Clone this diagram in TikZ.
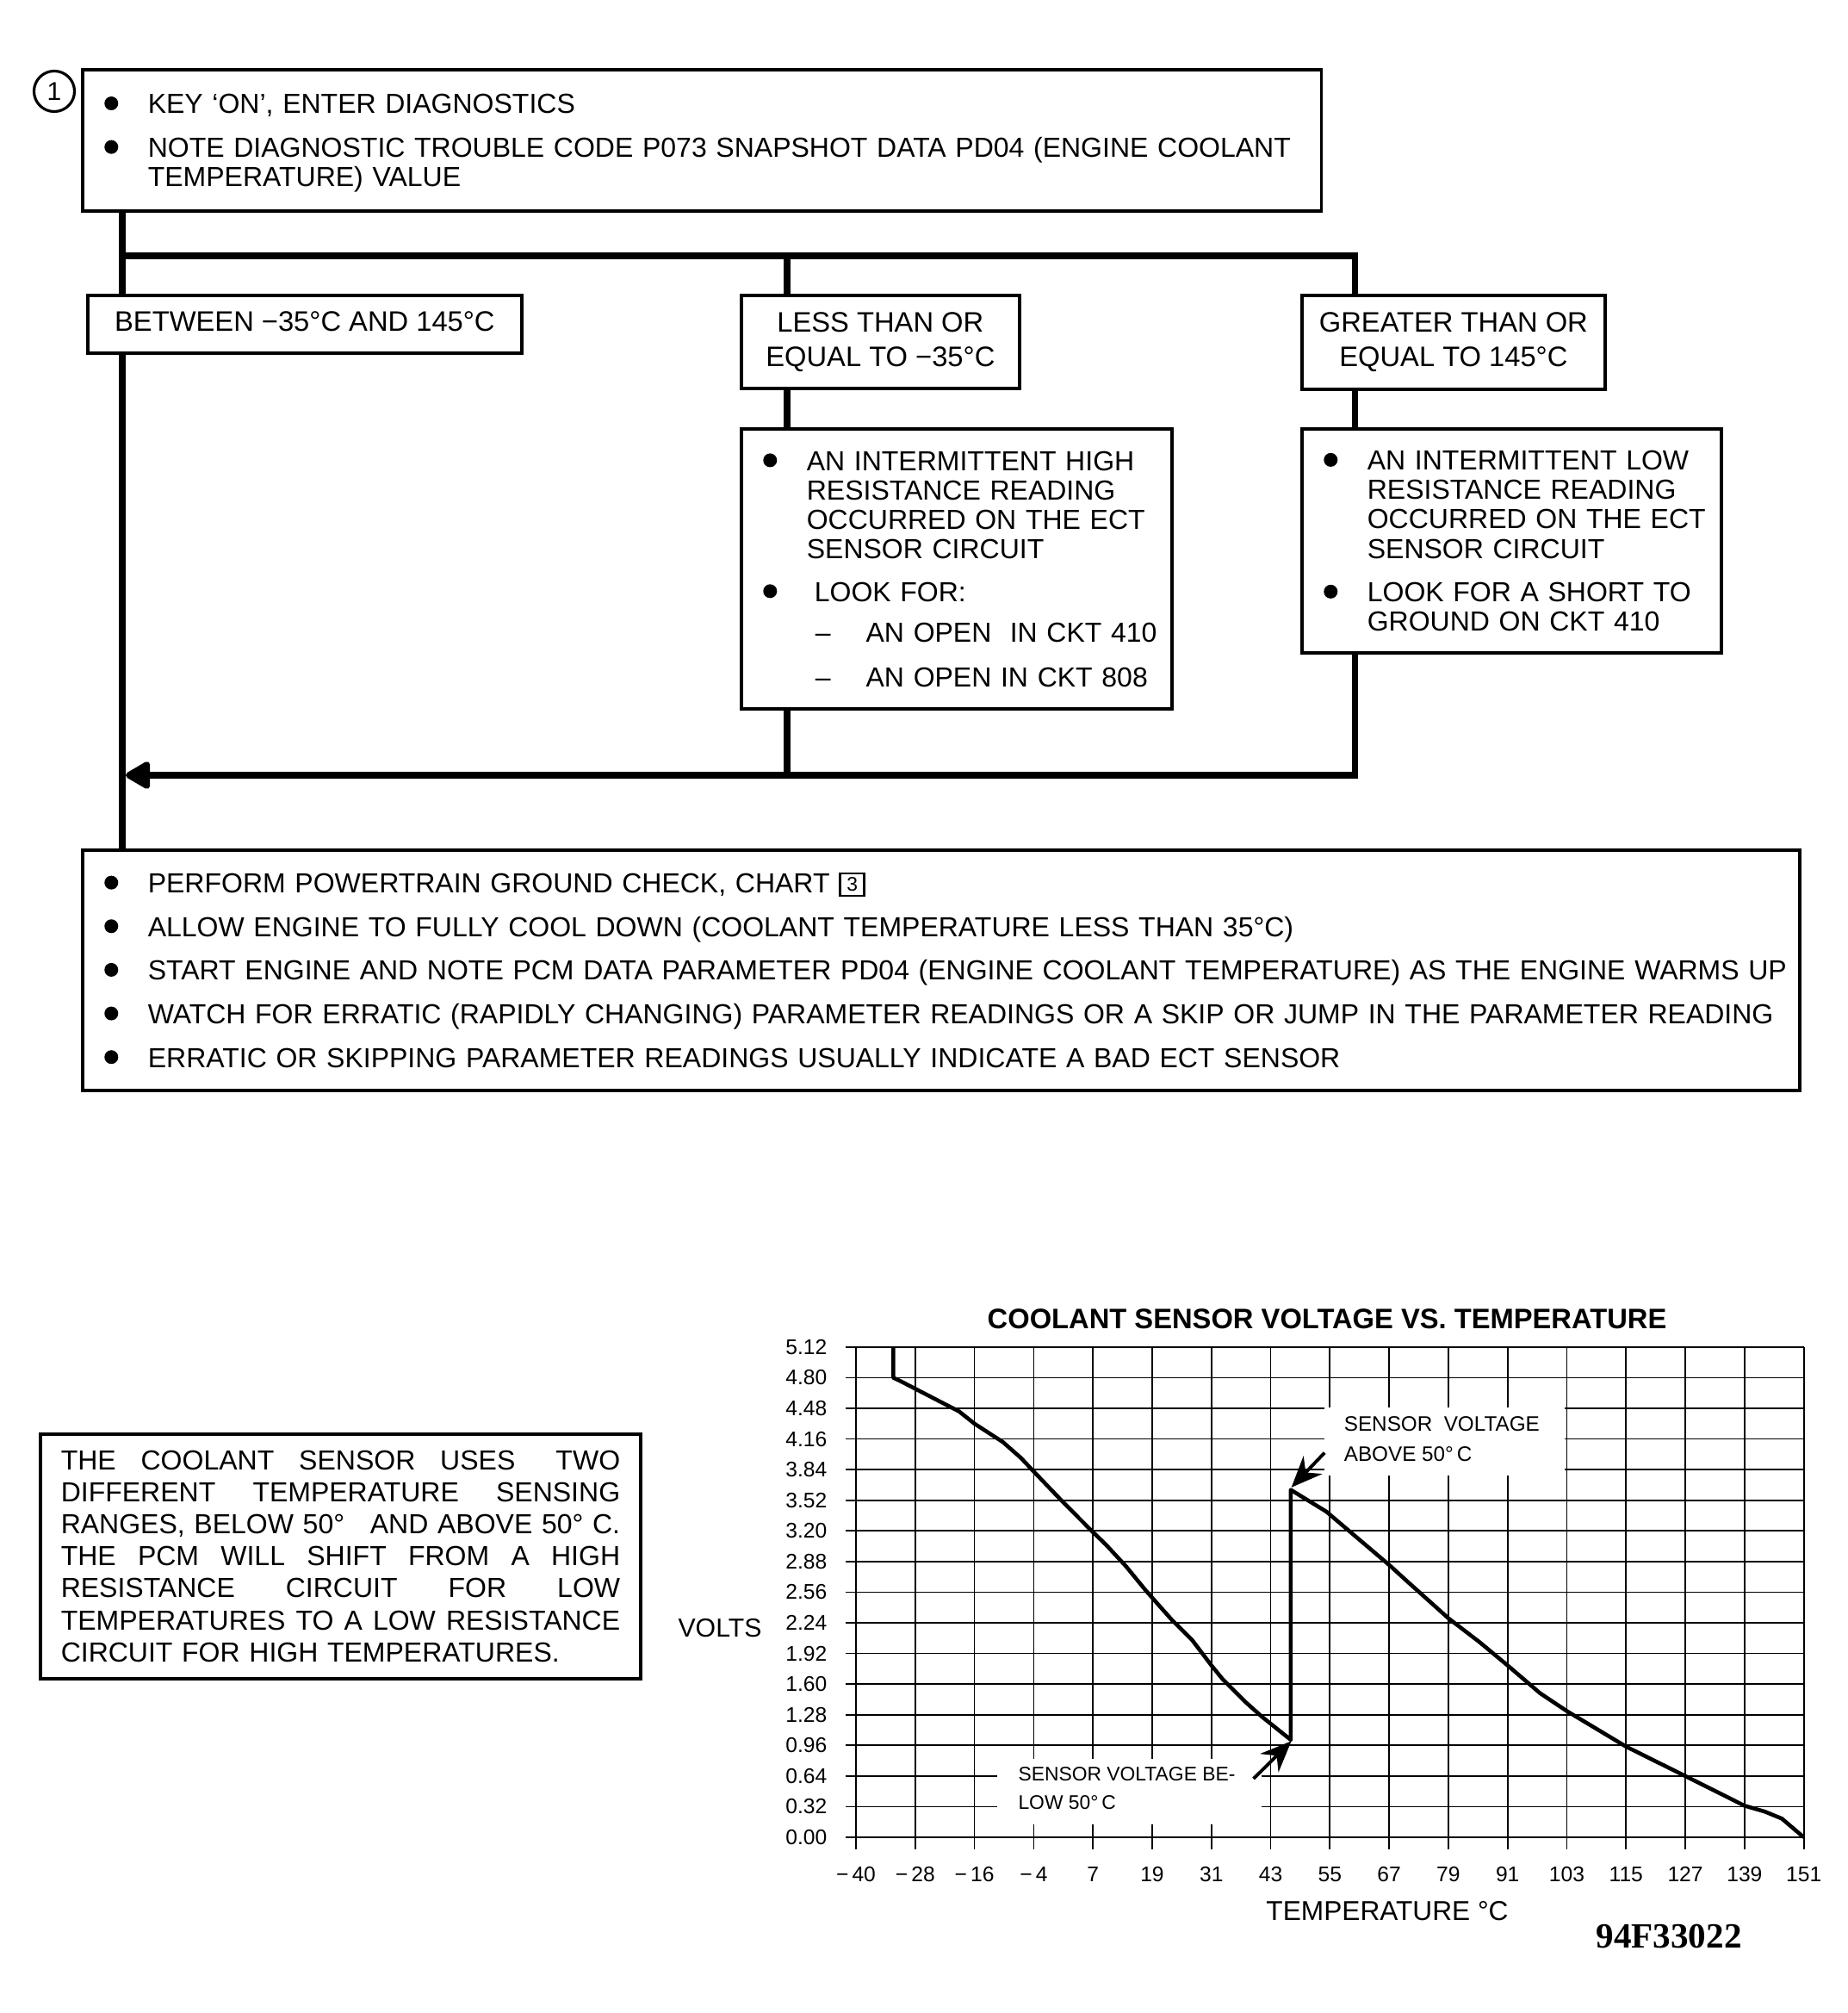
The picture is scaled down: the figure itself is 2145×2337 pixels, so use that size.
\documentclass[tikz,border=0pt]{standalone}
\usepackage{fontspec}
\setmainfont{Liberation Sans}
\newfontfamily\figfont{Liberation Serif}
\usetikzlibrary{arrows.meta}

\newcommand{\bul}{\tikz[baseline=-0.118cm]\fill (0,0) circle (0.08cm);}
\newcommand{\firstrow}{\rule{0pt}{0.33cm}}
\newcommand{\chartref}{\tikz[baseline=-0.095cm]\node[draw, anchor=center, line width=0.8pt, inner sep=0pt, minimum width=0.28cm, minimum height=0.26cm, font=\fontsize{6.5pt}{6.5pt}\selectfont] (chartno) {3};}
\newcommand{\fullline}[1]{\makebox[6.49cm][s]{#1}}

\tikzset{
  box/.style={draw, line width=1pt, inner ysep=0pt, anchor=north west},
  listbox/.style={box, align=left, inner xsep=0.255cm, font=\fontsize{9.1pt}{9.7pt}\selectfont},
  tagbox/.style={box, align=center, inner xsep=0pt, font=\fontsize{9.3pt}{11.4pt}\selectfont},
  wire/.style={line width=2pt},
  gridline/.style={line width=0.5pt},
  curve/.style={line width=1.3pt, line join=round},
  pointer/.style={line width=1.1pt, -{Stealth[length=0.36cm, width=0.3cm, inset=0.12cm]}},
  ticklabel/.style={font=\fontsize{7pt}{7pt}\selectfont, inner sep=0pt}
}

\begin{document}
\begin{tikzpicture}[x=0.01cm, y=-0.01cm]
\useasboundingbox (0,0) rectangle (2145,2337);

\node[circle, draw, line width=0.9pt, minimum size=0.47cm, inner sep=0pt, font=\fontsize{8.5pt}{8.5pt}\selectfont] (num) at (63,106) {1};

\node[listbox, text width=13.87cm, minimum height=1.64cm] (top) at (94,79) {%
  \begin{tabular}{@{}p{0.505cm}@{}l@{}}
  \bul\firstrow & KEY `ON', ENTER DIAGNOSTICS\\[4.7pt]
  \bul & NOTE DIAGNOSTIC TROUBLE CODE P073 SNAPSHOT DATA PD04 (ENGINE COOLANT\\
       & TEMPERATURE) VALUE
  \end{tabular}};

\node[tagbox, minimum width=5.04cm, minimum height=0.67cm, text depth=0.06cm] (between) at (100,341) {BETWEEN −35°C AND 145°C};
\node[tagbox, minimum width=3.23cm, minimum height=1.08cm] (lessthan) at (859,341) {LESS THAN OR\\EQUAL TO −35°C};
\node[tagbox, minimum width=3.52cm, minimum height=1.09cm] (greater) at (1510,341) {GREATER THAN OR\\EQUAL TO 145°C};

\node[listbox, text width=4.49cm, minimum height=3.25cm] (highres) at (859,496) {%
  \begin{tabular}{@{}p{0.505cm}@{}l@{}}
  \bul\firstrow & AN INTERMITTENT HIGH\\
       & RESISTANCE READING\\
       & OCCURRED ON THE ECT\\
       & SENSOR CIRCUIT\\[4.4pt]
  \bul & \hspace{0.09cm}LOOK FOR:\\[3.8pt]
       & \hspace{0.1cm}--\hspace{0.41cm}AN OPEN\ \ IN CKT 410\\[5pt]
       & \hspace{0.1cm}--\hspace{0.41cm}AN OPEN IN CKT 808
  \end{tabular}};

\node[listbox, text width=4.36cm, minimum height=2.6cm] (lowres) at (1510,496) {%
  \begin{tabular}{@{}p{0.505cm}@{}l@{}}
  \bul\firstrow & AN INTERMITTENT LOW\\
       & RESISTANCE READING\\
       & OCCURRED ON THE ECT\\
       & SENSOR CIRCUIT\\[4.7pt]
  \bul & LOOK FOR A SHORT TO\\
       & GROUND ON CKT 410
  \end{tabular}};

\node[listbox, text width=19.42cm, minimum height=2.79cm] (checks) at (94,985) {%
  \begin{tabular}{@{}p{0.505cm}@{}l@{}}
  \bul\firstrow & PERFORM POWERTRAIN GROUND CHECK, CHART \chartref\\[4.7pt]
  \bul & ALLOW ENGINE TO FULLY COOL DOWN (COOLANT TEMPERATURE LESS THAN 35°C)\\[4.7pt]
  \bul & START ENGINE AND NOTE PCM DATA PARAMETER PD04 (ENGINE COOLANT TEMPERATURE) AS THE ENGINE WARMS UP\\[4.7pt]
  \bul & WATCH FOR ERRATIC (RAPIDLY CHANGING) PARAMETER READINGS OR A SKIP OR JUMP IN THE PARAMETER READING\\[4.7pt]
  \bul & ERRATIC OR SKIPPING PARAMETER READINGS USUALLY INDICATE A BAD ECT SENSOR
  \end{tabular}};

\coordinate (bus) at (142,297);
\coordinate (lbr) at (914,297);
\coordinate (rbr) at (1573,297);
\coordinate (ret) at (1573,900);
\coordinate (retend) at (146,900);

\draw[wire] (top.south -| bus) -- (between.north -| bus);
\draw[wire] (bus) -- (rbr) -- (greater.north -| rbr);
\draw[wire] (lbr) -- (lessthan.north -| lbr);
\draw[wire] (lessthan.south -| lbr) -- (highres.north -| lbr);
\draw[wire] (greater.south -| rbr) -- (lowres.north -| rbr);
\draw[wire] (between.south -| bus) -- (checks.north -| bus);
\draw[wire] (highres.south -| lbr) -- (lbr |- ret);
\draw[wire, -{Triangle[length=0.32cm, width=0.35cm, round]}] (lowres.south -| rbr) -- (ret) -- (retend);

\node[box, text width=6.49cm, align=left, inner xsep=0.24cm, minimum height=2.84cm, font=\fontsize{9.1pt}{10.55pt}\selectfont] (note) at (45,1663) {%
  \fullline{THE \hfill COOLANT \hfill SENSOR \hfill USES \hfill\hfill TWO}\\
  \fullline{DIFFERENT \hfill TEMPERATURE \hfill SENSING}\\
  \fullline{RANGES, BELOW 50° \hfill AND ABOVE 50° C.}\\
  \fullline{THE \hfill PCM \hfill WILL \hfill SHIFT \hfill FROM \hfill A \hfill HIGH}\\
  \fullline{RESISTANCE \hfill CIRCUIT \hfill FOR \hfill LOW}\\
  \fullline{TEMPERATURES \hfill TO \hfill A \hfill LOW \hfill RESISTANCE}\\
  CIRCUIT FOR HIGH TEMPERATURES.};

\node[font=\bfseries\fontsize{9.3pt}{9.3pt}\selectfont] (title) at (1541,1531) {COOLANT SENSOR VOLTAGE VS. TEMPERATURE};
\node[font=\fontsize{8.6pt}{8.6pt}\selectfont] (volts) at (836,1890) {VOLTS};
\node[font=\fontsize{9pt}{9pt}\selectfont] (templabel) at (1611,2219) {TEMPERATURE °C};
\node[font=\figfont\bfseries\fontsize{11.7pt}{11.7pt}\selectfont] (figno) at (1938,2248) {94F33022};

\begin{scope}[shift={(994,2133)}, x=0.6875cm, y=0.3555cm]
  \foreach \i in {0,...,16}
    {\draw[gridline] (\i,-0.4) -- (\i,16);}
  \foreach \j in {0,...,16}
    {\draw[gridline] (-0.17,\j) -- (16,\j);}
  \fill[white] (7.91,11.81) rectangle (11.97,14.03);
  \fill[white] (2.39,0.42) rectangle (6.85,2.56);
  \foreach \j/\v in {0/0.00, 1/0.32, 2/0.64, 3/0.96, 4/1.28, 5/1.60, 6/1.92, 7/2.24, 8/2.56,
                     9/2.88, 10/3.20, 11/3.52, 12/3.84, 13/4.16, 14/4.48, 15/4.80, 16/5.12}
    {\node[ticklabel, anchor=east] (v\j) at (-0.48,\j) {\v};}
  \foreach \i/\t in {0/{−\,40}, 1/{−\,28}, 2/{−\,16}, 3/{−\,4}, 4/7, 5/19, 6/31, 7/43, 8/55,
                     9/67, 10/79, 11/91, 12/103, 13/115, 14/127, 15/139, 16/151}
    {\node[ticklabel] (t\i) at (\i,-1.21) {\t};}
  \node[font=\fontsize{6.9pt}{9.9pt}\selectfont, align=left, anchor=west, inner sep=0pt] (above) at (8.23,13.01) {SENSOR\ \ VOLTAGE\\ABOVE 50°\,C};
  \node[font=\fontsize{6.5pt}{9.4pt}\selectfont, align=left, anchor=west, inner sep=0pt] (below) at (2.73,1.59) {SENSOR VOLTAGE BE-\\LOW 50°\,C};
  \draw[curve] (0.63,16) -- (0.63,15) -- (0.74,14.9) -- (1.74,13.9) -- (2.0,13.5) -- (2.48,12.9)
    -- (2.78,12.39) -- (3.0,11.94) -- (3.48,10.97) -- (4.0,9.96) -- (4.22,9.55) -- (4.56,8.84)
    -- (4.89,8.06) -- (5.33,7.1) -- (5.67,6.45) -- (6.0,5.61) -- (6.19,5.16) -- (6.59,4.39)
    -- (6.85,3.94) -- (7.34,3.18) -- (7.34,11.34) -- (7.94,10.63) -- (9.0,8.89) -- (9.29,8.38)
    -- (10.0,7.15) -- (10.52,6.38) -- (11.0,5.61) -- (11.55,4.7) -- (12.0,4.12) -- (13.0,2.96)
    -- (14.0,2.0) -- (15.0,1.03) -- (15.34,0.84) -- (15.63,0.61) -- (16,0);
  \coordinate (jumptop) at (7.35,11.42);
  \coordinate (jumpfoot) at (7.35,3.14);
  \coordinate (abovetail) at (7.91,12.55);
  \coordinate (belowtail) at (6.71,1.91);
  \draw[pointer] (abovetail) -- (jumptop);
  \draw[pointer] (belowtail) -- (jumpfoot);
\end{scope}
\end{tikzpicture}
\end{document}
